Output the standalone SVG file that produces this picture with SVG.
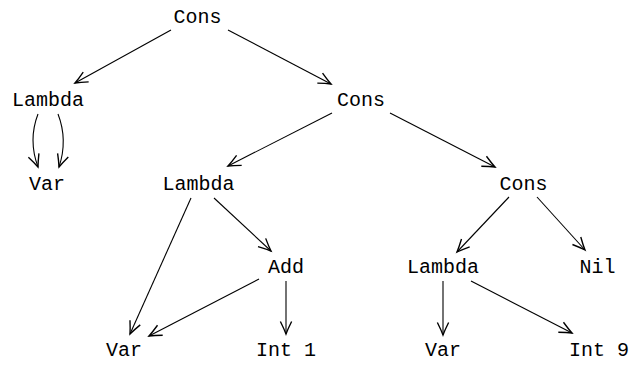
<svg xmlns="http://www.w3.org/2000/svg" width="631" height="391" viewBox="0 0 631 391">
<style>
text{font-family:"Liberation Mono","DejaVu Sans Mono",monospace;font-size:20px;fill:#000;text-anchor:middle}
.e{fill:none;stroke:#000;stroke-width:1.1;marker-end:url(#ah)}
</style>
<defs>
<marker id="ah" markerUnits="userSpaceOnUse" markerWidth="20" markerHeight="20" viewBox="-12 -8 14 16" refX="0" refY="0" orient="auto">
<path d="M-10,-4.5 Q-4,-1.5 0,0 Q-4,1.5 -10,4.5" fill="none" stroke="#000" stroke-width="1.1"/>
</marker>
</defs>
<rect width="631" height="391" fill="#fff"/>
<g id="connectors">
<path class="e" d="M171,30 L75,83"/>
<path class="e" d="M228,30 L331,84"/>
<path class="e" d="M38,114 Q28,140 38,167"/>
<path class="e" d="M58,114 Q68,140 59,167"/>
<path class="e" d="M332,113 L228,166"/>
<path class="e" d="M390,113 L495,167"/>
<path class="e" d="M509,197 L457,252"/>
<path class="e" d="M537,197 L585,250"/>
<path class="e" d="M191,198 L130,334"/>
<path class="e" d="M214,198 L271,251"/>
<path class="e" d="M259,279 L149,336"/>
<path class="e" d="M286,281 L286,334"/>
<path class="e" d="M443,281 L443,335"/>
<path class="e" d="M471,281 L572,333"/>
</g>
<g id="n_cons1"><text x="197.5" y="23">Cons</text></g>
<g id="n_lambda1"><text x="48" y="106">Lambda</text></g>
<g id="n_var1"><text x="47" y="190">Var</text></g>
<g id="n_cons2"><text x="361" y="106">Cons</text></g>
<g id="n_lambda2"><text x="198.5" y="190">Lambda</text></g>
<g id="n_cons3"><text x="523.5" y="190">Cons</text></g>
<g id="n_add"><text x="286" y="273">Add</text></g>
<g id="n_lambda3"><text x="443" y="273">Lambda</text></g>
<g id="n_nil"><text x="597.5" y="273">Nil</text></g>
<g id="n_var2"><text x="124" y="356">Var</text></g>
<g id="n_int1"><text x="286" y="356">Int 1</text></g>
<g id="n_var3"><text x="443" y="356">Var</text></g>
<g id="n_int9"><text x="599" y="356">Int 9</text></g>
</svg>
